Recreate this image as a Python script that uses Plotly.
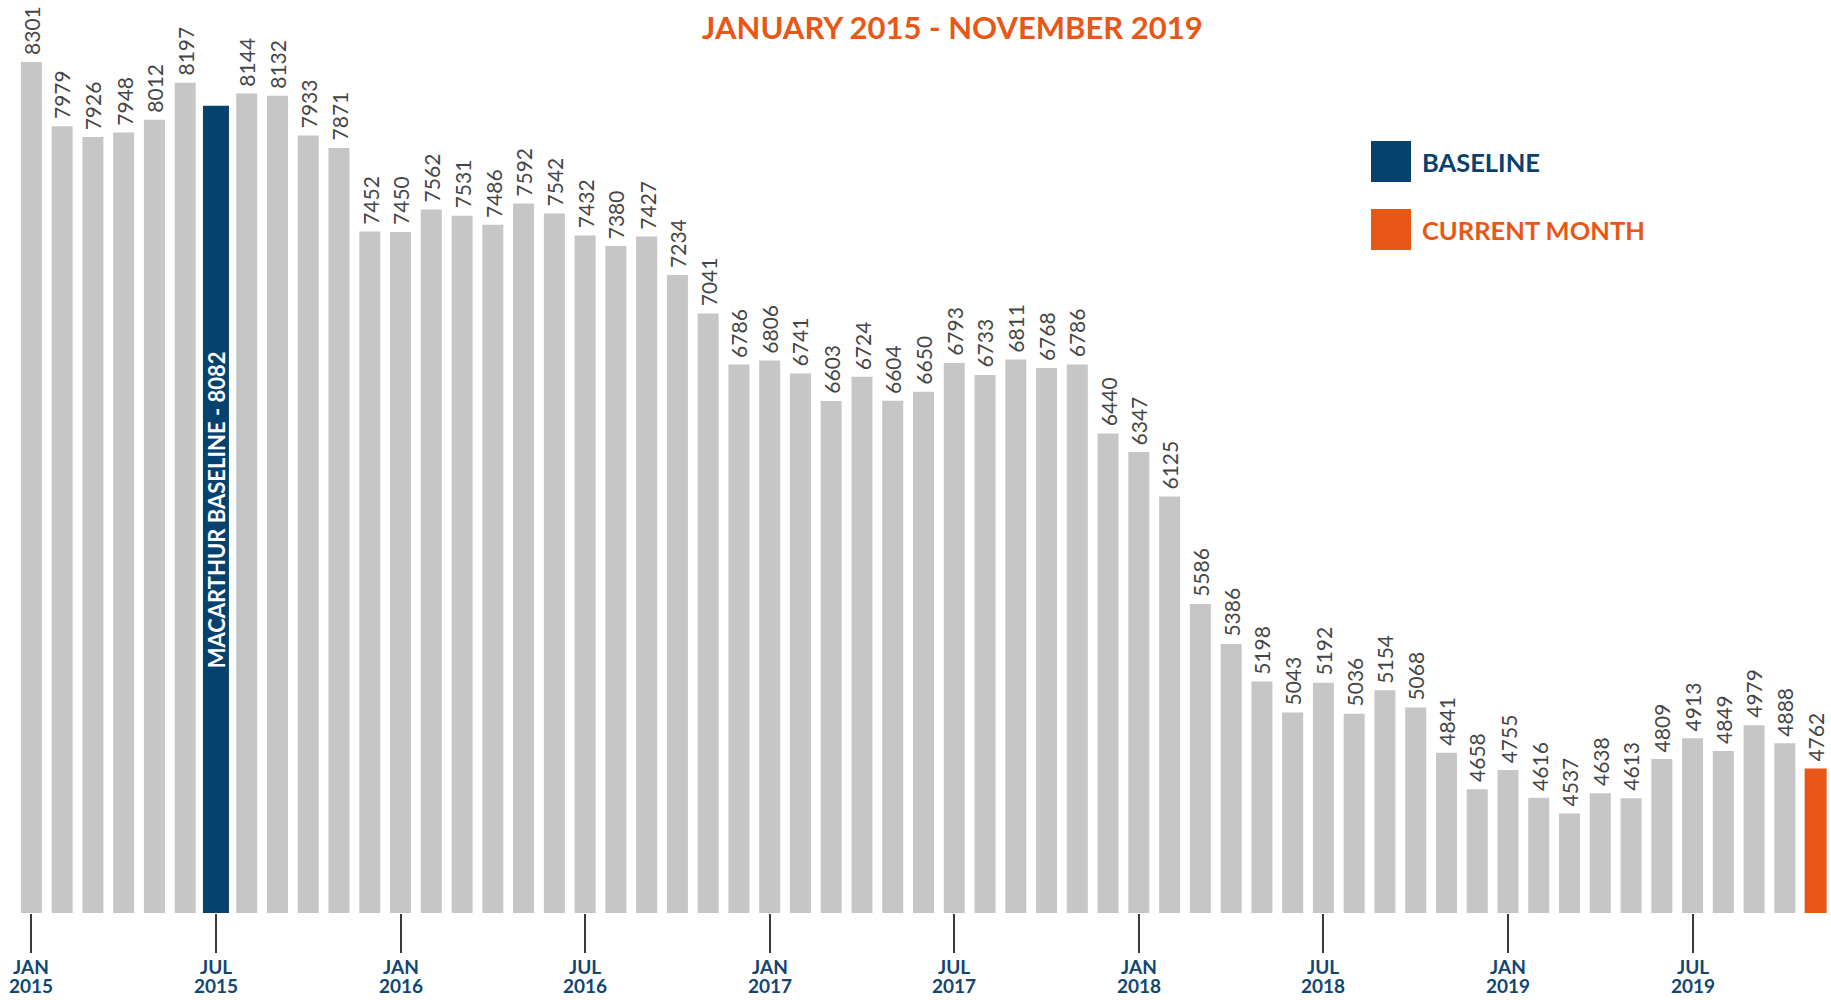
import plotly.graph_objects as go

months = [
    "2015-01", "2015-02", "2015-03", "2015-04", "2015-05", "2015-06",
    "2015-07", "2015-08", "2015-09", "2015-10", "2015-11", "2015-12",
    "2016-01", "2016-02", "2016-03", "2016-04", "2016-05", "2016-06",
    "2016-07", "2016-08", "2016-09", "2016-10", "2016-11", "2016-12",
    "2017-01", "2017-02", "2017-03", "2017-04", "2017-05", "2017-06",
    "2017-07", "2017-08", "2017-09", "2017-10", "2017-11", "2017-12",
    "2018-01", "2018-02", "2018-03", "2018-04", "2018-05", "2018-06",
    "2018-07", "2018-08", "2018-09", "2018-10", "2018-11", "2018-12",
    "2019-01", "2019-02", "2019-03", "2019-04", "2019-05", "2019-06",
    "2019-07", "2019-08", "2019-09", "2019-10", "2019-11",
]
values = [
    8301, 7979, 7926, 7948, 8012, 8197, 8082, 8144, 8132, 7933, 7871, 7452,
    7450, 7562, 7531, 7486, 7592, 7542, 7432, 7380, 7427, 7234, 7041, 6786,
    6806, 6741, 6603, 6724, 6604, 6650, 6793, 6733, 6811, 6768, 6786, 6440,
    6347, 6125, 5586, 5386, 5198, 5043, 5192, 5036, 5154, 5068, 4841, 4658,
    4755, 4616, 4537, 4638, 4613, 4809, 4913, 4849, 4979, 4888, 4762,
]
tick_months = ["2015-01", "2015-07", "2016-01", "2016-07", "2017-01", "2017-07",
               "2018-01", "2018-07", "2019-01", "2019-07"]
tick_month_text = ["JAN", "JUL", "JAN", "JUL", "JAN", "JUL", "JAN", "JUL", "JAN", "JUL"]
tick_year_text = ["2015", "2015", "2016", "2016", "2017", "2017", "2018", "2018", "2019", "2019"]

baseline_month = "2015-07"
current_month = "2019-11"
baseline_label = "MACARTHUR BASELINE - 8082"
title_text = "JANUARY 2015 - NOVEMBER 2019"
legend_labels = ["BASELINE", "CURRENT MONTH"]

GRAY = "#c6c6c6"
NAVY = "#07416d"
ORANGE = "#e85716"
LABEL_GRAY = "#454545"
TICK_NAVY = "#124672"

W, H = 1831, 1000
ML, MR, MT, MB = 16, 0, 0, 87
y_min, y_max = 4038, 8612

colors = []
widths = []
for m in months:
    if m == baseline_month:
        colors.append(NAVY); widths.append(0.845)
    elif m == current_month:
        colors.append(ORANGE); widths.append(0.715)
    else:
        colors.append(GRAY); widths.append(0.683)

fig = go.Figure()
fig.add_trace(go.Bar(
    x=months, y=values, marker=dict(color=colors, line=dict(width=0)),
    width=widths, hoverinfo="x+y", showlegend=False,
))

pw = W - ML - MR
ph = H - MT - MB
def px_x(p):
    return (p - ML) / pw
def px_y(p):
    return (H - MB - p) / ph

annotations = []
for m, v in zip(months, values):
    if m == baseline_month:
        continue
    annotations.append(dict(
        x=m, y=v, xref="x", yref="y", text=str(v), showarrow=False,
        textangle=-90, xanchor="center", yanchor="bottom", yshift=5,
        font=dict(family="Lato", size=21, color=LABEL_GRAY),
    ))

bi = months.index(baseline_month)
annotations.append(dict(
    x=baseline_month, y=(y_min + values[bi]) / 2, xref="x", yref="y",
    text=baseline_label, showarrow=False, textangle=-90,
    xanchor="center", yanchor="middle",
    font=dict(family="Lato", size=22, color="white", weight="bold"),
))

for m, mt, yt in zip(tick_months, tick_month_text, tick_year_text):
    annotations.append(dict(
        x=m, y=0, xref="x", yref="paper", text=mt, showarrow=False,
        xanchor="center", yanchor="top", yshift=-40,
        font=dict(family="Lato", size=19, color=TICK_NAVY, weight="bold"),
    ))
    annotations.append(dict(
        x=m, y=0, xref="x", yref="paper", text=yt, showarrow=False,
        xanchor="center", yanchor="top", yshift=-59,
        font=dict(family="Lato", size=19, color=TICK_NAVY, weight="bold"),
    ))

annotations.append(dict(
    x=px_x(952), y=px_y(26.5), xref="paper", yref="paper", text=title_text,
    showarrow=False, xanchor="center", yanchor="middle",
    font=dict(family="Lato", size=31, color=ORANGE, weight="bold"),
))

shapes = []
legend_colors = [NAVY, ORANGE]
sq_tops = [141, 209]
for lab, c, top in zip(legend_labels, legend_colors, sq_tops):
    shapes.append(dict(
        type="rect", xref="paper", yref="paper",
        x0=px_x(1371), x1=px_x(1411), y0=px_y(top + 41), y1=px_y(top),
        fillcolor=c, line=dict(width=0),
    ))
    annotations.append(dict(
        x=px_x(1420), y=px_y(top + 21), xref="paper", yref="paper", text=lab,
        showarrow=False, xanchor="left", yanchor="middle",
        font=dict(family="Lato", size=25.5, color=c, weight="bold"),
    ))

fig.update_layout(
    width=W, height=H,
    margin=dict(l=ML, r=MR, t=MT, b=MB, pad=0),
    paper_bgcolor="white", plot_bgcolor="white",
    xaxis=dict(
        type="category", range=[-0.5, len(months) - 0.5],
        tickmode="array", tickvals=tick_months, showticklabels=False,
        ticks="outside", ticklen=39, tickwidth=2, tickcolor="#3a3a3a",
        showgrid=False, zeroline=False, showline=False,
    ),
    yaxis=dict(
        range=[y_min, y_max], visible=False, showgrid=False, zeroline=False,
    ),
    annotations=annotations, shapes=shapes,
    bargap=0.3,
)

fig.write_html("out.html", config={"displayModeBar": False},
               post_script="document.body.style.margin='0';")
